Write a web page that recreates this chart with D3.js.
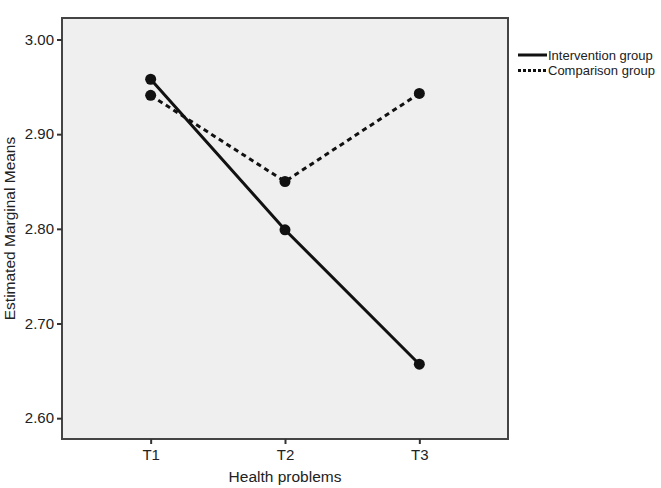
<!DOCTYPE html>
<html>
<head>
<meta charset="utf-8">
<script src="https://cdn.jsdelivr.net/npm/d3@7"></script>
<style>
  body { margin: 0; background: #fff; }
  text { font-family: "Liberation Sans", Arial, sans-serif; fill: #222; }
</style>
</head>
<body>
<div id="chart"></div>
<script>
// data
var times = ['T1', 'T2', 'T3'];
var interventionMeans = [2.958, 2.799, 2.657];
var comparisonMeans = [2.941, 2.850, 2.943];
var yTicks = [2.60, 2.70, 2.80, 2.90, 3.00];
var groupNames = ['Intervention group', 'Comparison group'];

var attrs = {
  svgWidth: 661,
  svgHeight: 488,
  marginTop: 18,
  marginLeft: 62,
  plotRight: 508,
  plotBottom: 439
};

var calc = {};
calc.chartWidth = attrs.plotRight - attrs.marginLeft;
calc.chartHeight = attrs.plotBottom - attrs.marginTop;

var svg = d3.select('#chart').append('svg')
  .attr('width', attrs.svgWidth)
  .attr('height', attrs.svgHeight);

var chart = svg.append('g')
  .attr('transform', 'translate(' + attrs.marginLeft + ',' + attrs.marginTop + ')');

var xScale = d3.scalePoint()
  .domain(times)
  .range([0, calc.chartWidth])
  .padding(0.66);

var yScale = d3.scaleLinear()
  .domain([2.578, 3.0227])
  .range([calc.chartHeight, 0]);

// plot background
chart.append('rect')
  .attr('width', calc.chartWidth)
  .attr('height', calc.chartHeight)
  .attr('fill', '#efefef')
  .attr('stroke', '#444')
  .attr('stroke-width', 2);

var yAxis = d3.axisLeft(yScale).tickValues(yTicks).tickFormat(d3.format('.2f')).tickSize(5).tickPadding(3);
var xAxis = d3.axisBottom(xScale).tickSize(5).tickPadding(5);

chart.append('g').attr('class', 'yaxis').call(yAxis);
chart.append('g').attr('class', 'xaxis')
  .attr('transform', 'translate(0,' + calc.chartHeight + ')').call(xAxis);

chart.selectAll('.domain').remove();
chart.selectAll('.tick line').attr('stroke', '#333').attr('stroke-width', 2);
chart.selectAll('.tick text').style('font-size', '15px').attr('fill', '#222');

// axis titles
svg.append('text')
  .attr('x', attrs.marginLeft + xScale('T2'))
  .attr('y', 482)
  .attr('text-anchor', 'middle')
  .style('font-size', '15.5px')
  .text('Health problems');

svg.append('text')
  .attr('transform', 'translate(15,' + (attrs.marginTop + calc.chartHeight / 2) + ') rotate(-90)')
  .attr('text-anchor', 'middle')
  .style('font-size', '15.5px')
  .text('Estimated Marginal Means');

var series = [
  { name: groupNames[1], values: comparisonMeans, dash: '5,4' },
  { name: groupNames[0], values: interventionMeans, dash: null }
];

var line = d3.line()
  .x(function (d, i) { return xScale(times[i]); })
  .y(function (d) { return yScale(d); });

series.forEach(function (s) {
  chart.append('path')
    .datum(s.values)
    .attr('d', line)
    .attr('fill', 'none')
    .attr('stroke', '#111')
    .attr('stroke-width', 3)
    .attr('stroke-dasharray', s.dash);

  chart.selectAll(null)
    .data(s.values)
    .enter().append('circle')
    .attr('cx', function (d, i) { return xScale(times[i]); })
    .attr('cy', function (d) { return yScale(d); })
    .attr('r', 5.5)
    .attr('fill', '#111');
});

// legend
var legend = svg.append('g').attr('transform', 'translate(518,55)');
[{ name: groupNames[0], dash: null }, { name: groupNames[1], dash: '3,2' }].forEach(function (d, i) {
  var row = legend.append('g').attr('transform', 'translate(0,' + (i * 15.5) + ')');
  row.append('line')
    .attr('x1', 0).attr('x2', 29)
    .attr('stroke', '#111')
    .attr('stroke-width', 3)
    .attr('stroke-dasharray', d.dash);
  row.append('text')
    .attr('x', 30)
    .attr('dy', '0.35em')
    .style('font-size', '13px')
    .text(d.name);
});
</script>
</body>
</html>
